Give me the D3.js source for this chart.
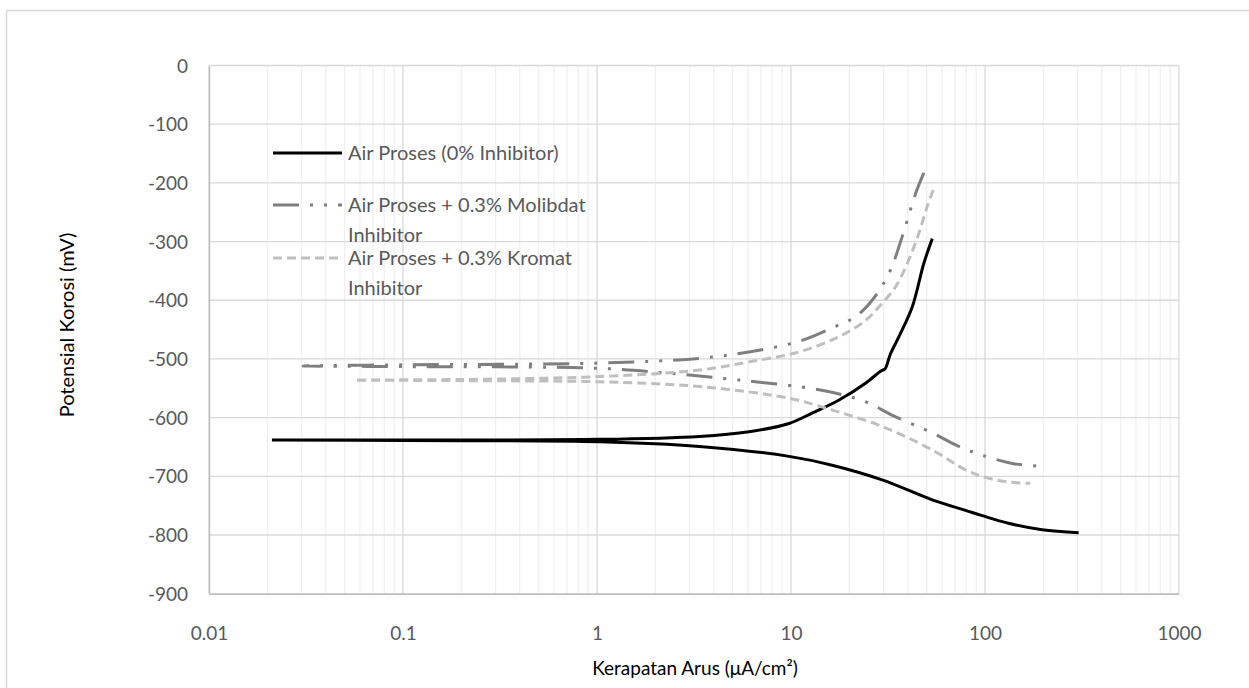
<!DOCTYPE html>
<html>
<head>
<meta charset="utf-8">
<script src="https://cdn.jsdelivr.net/npm/d3@7"></script>
<style>
  body { margin: 0; background: #fff; }
  svg { display: block; font-family: Lato, "Open Sans", sans-serif; }
</style>
</head>
<body>
<div id="viz"></div>
<script>
// current density (uA/cm2), potential (mV): anodic end -> Ecorr -> cathodic end
const airProses = [
  [53.5, -295], [48.4, -337], [42.2, -411], [36, -462], [32.5, -492], [30.5, -517],
  [29.2, -520], [24.3, -541], [17.7, -570], [12.9, -592], [9.77, -610], [6.08, -624],
  [3.37, -632], [1.03, -637], [0.1, -638], [0.0211, -638],
  [0.1, -639], [1.03, -641], [3.37, -649], [9.77, -666], [16.3, -681], [29.5, -706],
  [53.4, -740], [79.4, -758], [96.6, -767], [132, -780], [197, -791], [304, -796]
]
const molibdat = [
  [48.4, -183], [43.9, -218], [37.4, -292], [32, -354], [26.2, -400], [21.5, -428],
  [16.3, -447], [11, -470], [6.08, -488], [3.37, -499], [1.03, -507], [0.1, -510],
  [0.0305, -512],
  [0.1, -513], [1.03, -516], [2.27, -524], [5.4, -536], [14.2, -553], [24.3, -573],
  [33.3, -596], [53.4, -626], [73.3, -649], [96.6, -664], [138, -678], [193, -683]
]
const kromat = [
  [54.1, -212], [50.4, -240], [45.6, -286], [40.5, -331], [34.6, -377], [29.5, -405],
  [24.3, -434], [17.7, -462], [11, -488], [6.08, -505], [3.37, -519], [1.03, -530],
  [0.2, -535], [0.0564, -536],
  [0.2, -537], [1.03, -539], [3.37, -547], [9.77, -567], [16.3, -587], [29.5, -615],
  [53.4, -655], [79.4, -689], [96.6, -700], [127, -709], [171, -712]
]
const xTicks = [0.01, 0.1, 1, 10, 100, 1000]
const xTickLabels = ['0.01', '0.1', '1', '10', '100', '1000']
const yTicks = [0, -100, -200, -300, -400, -500, -600, -700, -800, -900]
const legendLabels = [
  ['Air Proses (0% Inhibitor)'],
  ['Air Proses + 0.3% Molibdat', 'Inhibitor'],
  ['Air Proses + 0.3% Kromat', 'Inhibitor']
]

const width = 1249, height = 688
const margin = { top: 65.5, right: 70, bottom: 94.3, left: 209 }
const innerWidth = width - margin.left - margin.right,
  innerHeight = height - margin.top - margin.bottom

const svg = d3.select('#viz').append('svg')
  .attr('width', width)
  .attr('height', height)

// chart area border (runs off the right and bottom like the reference)
svg.append('path')
  .attr('d', 'M1249,10.5H6.5V688')
  .attr('fill', 'none')
  .attr('stroke', '#d9d9d9')
  .attr('stroke-width', 1.5)

const g = svg.append('g')
  .attr('transform', `translate(${margin.left}, ${margin.top})`)

const x = d3.scaleLog()
  .domain([0.01, 1000])
  .range([0, innerWidth])

const y = d3.scaleLinear()
  .domain([-900, 0])
  .range([innerHeight, 0])

// minor vertical grid
const minor = []
for (let d = 0.01; d < 1000; d *= 10) {
  for (let k = 2; k <= 9; k++) minor.push(d * k)
}
g.append('g').selectAll('line').data(minor)
  .enter().append('line')
  .attr('x1', d => x(d)).attr('x2', d => x(d))
  .attr('y1', 0).attr('y2', innerHeight)
  .attr('stroke', '#f0f0f0')
  .attr('stroke-width', 1.3)

// major grid
g.append('g').selectAll('line').data(yTicks)
  .enter().append('line')
  .attr('x1', 0).attr('x2', innerWidth)
  .attr('y1', d => y(d)).attr('y2', d => y(d))
  .attr('stroke', '#d9d9d9')
  .attr('stroke-width', 1.3)

g.append('g').selectAll('line').data(xTicks)
  .enter().append('line')
  .attr('x1', d => x(d)).attr('x2', d => x(d))
  .attr('y1', 0).attr('y2', innerHeight)
  .attr('stroke', '#d9d9d9')
  .attr('stroke-width', 1.3)

// axes
const xAxis = d3.axisBottom(x)
  .tickValues(xTicks)
  .tickFormat((d, i) => xTickLabels[i])
  .tickSize(0)
  .tickPadding(33)
const xAxisG = g.append('g')
  .attr('transform', `translate(0, ${innerHeight})`)
  .call(xAxis)

const yAxis = d3.axisLeft(y)
  .tickValues(yTicks)
  .tickFormat(d => String(d))
  .tickSize(0)
  .tickPadding(21)
const yAxisG = g.append('g').call(yAxis)

;[xAxisG, yAxisG].forEach(a => {
  a.select('.domain').attr('stroke', '#bfbfbf').attr('stroke-width', 1.5)
  a.selectAll('text')
    .attr('fill', '#595959')
    .style('font-size', '19px')
    .style('font-family', 'Lato, "Open Sans", sans-serif')
})
yAxisG.selectAll('text').attr('dy', '0.35em')

// series
const line = d3.line()
  .x(d => x(d[0]))
  .y(d => y(d[1]))
  .curve(d3.curveCatmullRom.alpha(0.5))

const styles = [
  { data: airProses, color: '#000000', dash: null },
  { data: molibdat, color: '#7f7f7f', dash: '26,11,3,11,3,11' },
  { data: kromat, color: '#bfbfbf', dash: '9,5' }
]

styles.forEach(s => {
  g.append('path')
    .datum(s.data)
    .attr('d', line)
    .attr('fill', 'none')
    .attr('stroke', s.color)
    .attr('stroke-width', 3)
    .attr('stroke-dasharray', s.dash)
})

// legend
const legend = svg.append('g')
const legendY = [153, 205, 258]
styles.forEach((s, i) => {
  legend.append('line')
    .attr('x1', 273).attr('x2', 342)
    .attr('y1', legendY[i]).attr('y2', legendY[i])
    .attr('stroke', s.color)
    .attr('stroke-width', 3)
    .attr('stroke-dasharray', s.dash)
  legendLabels[i].forEach((t, j) => {
    legend.append('text')
      .attr('x', 348)
      .attr('y', legendY[i] + j * 30)
      .attr('dy', '0.35em')
      .attr('fill', '#595959')
      .style('font-size', '20px')
      .text(t)
  })
})

// axis titles
svg.append('text')
  .attr('x', margin.left + innerWidth / 2 + 1)
  .attr('y', 668)
  .attr('dy', '0.35em')
  .attr('text-anchor', 'middle')
  .attr('fill', '#000')
  .style('font-size', '19px')
  .html('Kerapatan Arus (&#956;A/cm&#178;)')

svg.append('text')
  .attr('transform', 'translate(67, 325) rotate(-90)')
  .attr('dy', '0.35em')
  .attr('text-anchor', 'middle')
  .attr('fill', '#000')
  .style('font-size', '20px')
  .text('Potensial Korosi (mV)')
</script>
</body>
</html>
